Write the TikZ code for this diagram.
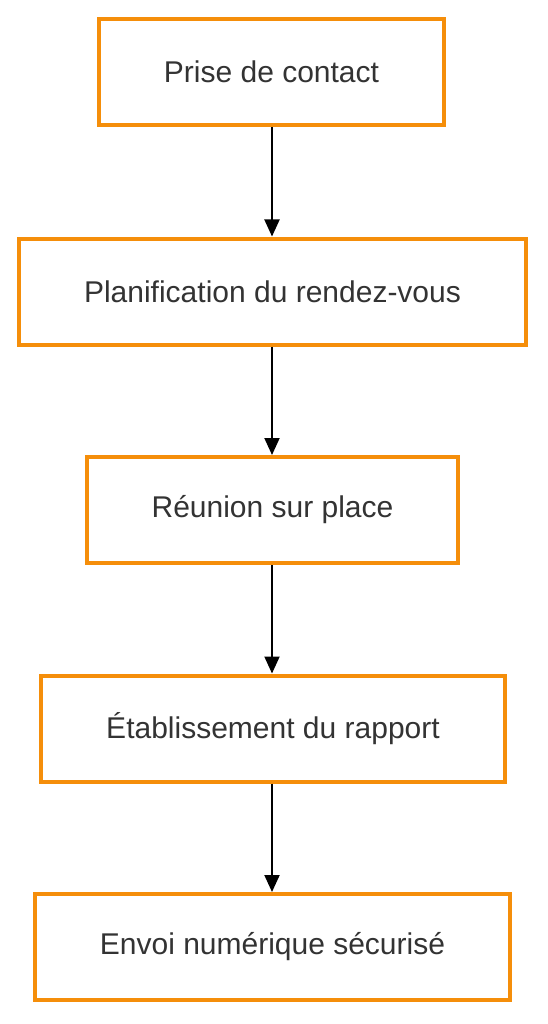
\documentclass[tikz,border=0pt]{standalone}
\usepackage{fontspec}
\setmainfont{Liberation Sans}
\usetikzlibrary{arrows.meta}
\definecolor{boxorange}{RGB}{245,142,10}
\definecolor{txt}{RGB}{51,51,51}
\begin{document}
\begin{tikzpicture}[x=1pt,y=-1pt,
  stepbox/.style={draw=boxorange,line width=4pt,fill=white,inner sep=0pt,
    minimum height=106pt,text=txt,font=\fontsize{30}{36}\selectfont},
  conn/.style={line width=2pt,draw=black,-{Triangle[length=17pt,width=15pt]}}]
\useasboundingbox (0,0) rectangle (548,1024);
\node[stepbox,minimum width=345pt] (a) at (271.5,72) {Prise de contact};
\node[stepbox,minimum width=507pt] (b) at (272.5,291.5) {Planification du rendez-vous};
\node[stepbox,minimum width=371pt] (c) at (272.5,510) {Réunion sur place};
\node[stepbox,minimum width=464pt] (d) at (273,728.5) {Établissement du rapport};
\node[stepbox,minimum width=475pt] (e) at (272.5,947) {Envoi numérique sécurisé};
\draw[conn] (a.south -| 272,0) -- (b.north -| 272,0);
\draw[conn] (b.south -| 272,0) -- (c.north -| 272,0);
\draw[conn] (c.south -| 272,0) -- (d.north -| 272,0);
\draw[conn] (d.south -| 272,0) -- (e.north -| 272,0);
\end{tikzpicture}
\end{document}
